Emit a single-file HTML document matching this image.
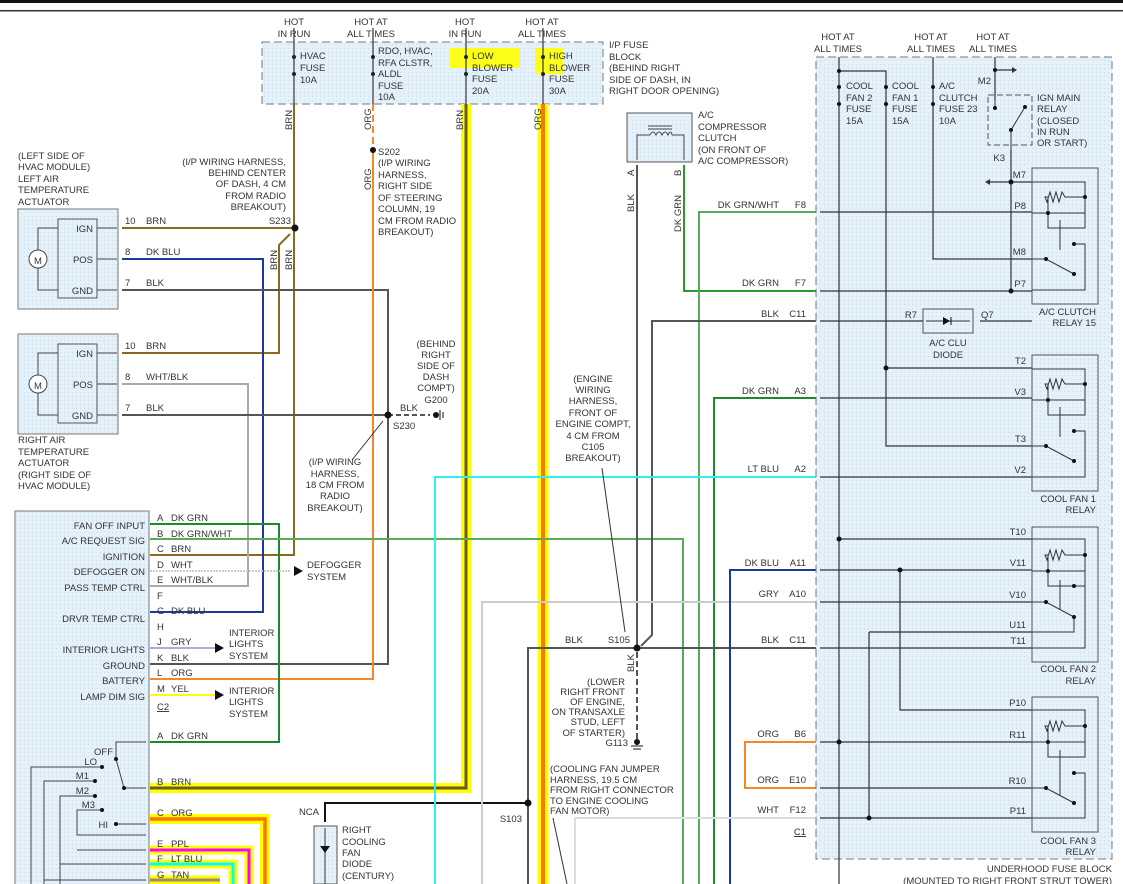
<!DOCTYPE html>
<html><head><meta charset="utf-8"><style>
html,body{margin:0;padding:0;background:#fff;}
svg{display:block;}
text{font-family:"Liberation Sans",sans-serif;font-size:9.5px;fill:#333;}
.r{text-anchor:end;}
</style></head><body>
<svg width="1123" height="884" viewBox="0 0 1123 884" xmlns="http://www.w3.org/2000/svg">
<defs>
<pattern id="bg" width="4" height="4" patternUnits="userSpaceOnUse"><rect width="4" height="4" fill="#e4f1fa"/><rect width="1" height="1" fill="#c9dcea"/></pattern>
</defs>
<!-- top rules -->
<rect x="0" y="0" width="1123" height="3" fill="#111"/>
<rect x="0" y="10" width="1123" height="1.5" fill="#333"/>

<!-- I/P fuse block -->
<rect x="262" y="42" width="341" height="62" fill="url(#bg)" stroke="#777" stroke-dasharray="8,4"/>
<rect x="450" y="48" width="70" height="20" fill="#ff0" opacity="0.9"/>
<rect x="535" y="48" width="28" height="26" fill="#ff0" opacity="0.9"/>
<g stroke="#444" stroke-width="1.3" fill="none">
<line x1="294" y1="28" x2="294" y2="104"/><line x1="373" y1="28" x2="373" y2="104"/>
<line x1="466" y1="28" x2="466" y2="104"/><line x1="543" y1="28" x2="543" y2="104"/>
</g>
<g fill="#222"><circle cx="294" cy="57" r="2"/><circle cx="294" cy="74" r="2"/><circle cx="373" cy="57" r="2"/><circle cx="373" cy="74" r="2"/><circle cx="466" cy="57" r="2"/><circle cx="466" cy="74" r="2"/><circle cx="543" cy="57" r="2"/><circle cx="543" cy="74" r="2"/></g>
<text x="294" y="25" text-anchor="middle">HOT</text><text x="294" y="37" text-anchor="middle">IN RUN</text>
<text x="371" y="25" text-anchor="middle">HOT AT</text><text x="371" y="37" text-anchor="middle">ALL TIMES</text>
<text x="465" y="25" text-anchor="middle">HOT</text><text x="465" y="37" text-anchor="middle">IN RUN</text>
<text x="542" y="25" text-anchor="middle">HOT AT</text><text x="542" y="37" text-anchor="middle">ALL TIMES</text>
<text x="300" y="59">HVAC</text><text x="300" y="71">FUSE</text><text x="300" y="83">10A</text>
<text x="378" y="54">RDO, HVAC,</text><text x="378" y="66">RFA CLSTR,</text><text x="378" y="77">ALDL</text><text x="378" y="89">FUSE</text><text x="378" y="100">10A</text>
<text x="472" y="59">LOW</text><text x="472" y="71">BLOWER</text><text x="472" y="82">FUSE</text><text x="472" y="94">20A</text>
<text x="549" y="59">HIGH</text><text x="549" y="71">BLOWER</text><text x="549" y="82">FUSE</text><text x="549" y="94">30A</text>
<text x="609" y="48">I/P FUSE</text><text x="609" y="60">BLOCK</text><text x="609" y="71">(BEHIND RIGHT</text><text x="609" y="83">SIDE OF DASH, IN</text><text x="609" y="94">RIGHT DOOR OPENING)</text>

<!-- blower thick bands -->
<path d="M466 104 V788 H150" fill="none" stroke="#ff0" stroke-width="10"/>
<path d="M466 104 V788 H150" fill="none" stroke="#6b5a2a" stroke-width="3"/>
<line x1="543" y1="104" x2="543" y2="884" stroke="#ff0" stroke-width="11"/>
<line x1="543" y1="104" x2="543" y2="884" stroke="#f70" stroke-width="4"/>
<text transform="translate(463,130) rotate(-90)" font-size="9">BRN</text>
<text transform="translate(541,130) rotate(-90)" font-size="9">ORG</text>

<!-- C ORG, E, F, G bands -->
<path d="M150 819 H265 V884" fill="none" stroke="#ff0" stroke-width="10"/>
<path d="M150 819 H265 V884" fill="none" stroke="#f70" stroke-width="3.5"/>
<path d="M150 850 H249 V884" fill="none" stroke="#ff0" stroke-width="9"/>
<path d="M150 850 H249 V884" fill="none" stroke="#f0f" stroke-width="3"/>
<path d="M150 864 H233 V884" fill="none" stroke="#ff0" stroke-width="9"/>
<path d="M150 864 H233 V884" fill="none" stroke="#0ff" stroke-width="3"/>
<path d="M150 880 H220" fill="none" stroke="#ff0" stroke-width="9"/>
<path d="M150 880 H220" fill="none" stroke="#9a8a70" stroke-width="3"/>

<!-- left actuators -->
<rect x="18" y="209" width="100" height="100" fill="url(#bg)" stroke="#777"/>
<rect x="58" y="219" width="39" height="79" fill="url(#bg)" stroke="#555"/>
<rect x="18" y="334" width="100" height="100" fill="url(#bg)" stroke="#777"/>
<rect x="58" y="344" width="39" height="79" fill="url(#bg)" stroke="#555"/>
<g stroke="#444" fill="none">
<path d="M58 228 H38 V250 M38 268 V290 H58"/><circle cx="38" cy="259" r="9" fill="#fff"/>
<path d="M58 353 H38 V375 M38 393 V415 H58"/><circle cx="38" cy="384" r="9" fill="#fff"/>
<path d="M97 228 H117 M97 259 H117 M97 290 H117 M97 353 H117 M97 384 H117 M97 415 H117"/>
</g>
<text x="38" y="264" text-anchor="middle" font-size="12">M</text><text x="38" y="389" text-anchor="middle" font-size="12">M</text>
<text x="93" y="232" class="r">IGN</text><text x="93" y="263" class="r">POS</text><text x="93" y="294" class="r">GND</text>
<text x="93" y="357" class="r">IGN</text><text x="93" y="388" class="r">POS</text><text x="93" y="419" class="r">GND</text>
<text x="18" y="159">(LEFT SIDE OF</text><text x="18" y="170">HVAC MODULE)</text><text x="18" y="182">LEFT AIR</text><text x="18" y="193">TEMPERATURE</text><text x="18" y="205">ACTUATOR</text>
<text x="18" y="443">RIGHT AIR</text><text x="18" y="455">TEMPERATURE</text><text x="18" y="466">ACTUATOR</text><text x="18" y="478">(RIGHT SIDE OF</text><text x="18" y="489">HVAC MODULE)</text>
<text x="125" y="224">10</text><text x="146" y="224">BRN</text><text x="125" y="255">8</text><text x="146" y="255">DK BLU</text><text x="125" y="286">7</text><text x="146" y="286">BLK</text>
<text x="125" y="349">10</text><text x="146" y="349">BRN</text><text x="125" y="380">8</text><text x="146" y="380">WHT/BLK</text><text x="125" y="411">7</text><text x="146" y="411">BLK</text>

<!-- left wires -->
<g fill="none" stroke-width="2">
<path d="M294 104 V555 H150" stroke="#8a6a20"/>
<path d="M122 228 H294" stroke="#8a6a20"/>
<path d="M290 234 L279 245 V353 H122" stroke="#8a6a20"/>
<path d="M122 259 H263 V612 H150" stroke="#1a3aa0"/>
<path d="M122 290 H388 V664 H150" stroke="#555"/>
<path d="M122 384 H248 V586 H150" stroke="#aaa"/>
<path d="M122 415 H388" stroke="#555"/>
<path d="M373 104 V150" stroke="#f7852a" stroke-dasharray="7,4"/>
<path d="M373 150 V679 H150" stroke="#f7852a"/>
<path d="M150 524 H279 V742 H150" stroke="#1a8a2a"/>
<path d="M150 539 H683 V884" stroke="#5aaa5a"/>
<path d="M150 571 H290" stroke="#ccc" stroke-dasharray="2,1"/>
<path d="M150 648 H215" stroke="#b8a8d0"/>
<path d="M150 695 H215" stroke="#ff0"/>
<path d="M388 415 H430" stroke="#555" stroke-dasharray="5,3"/>
</g>
<text transform="translate(292,130) rotate(-90)" font-size="9">BRN</text>
<text transform="translate(371,130) rotate(-90)" font-size="9">ORG</text>
<text transform="translate(371,190) rotate(-90)" font-size="9">ORG</text>
<text transform="translate(277,270) rotate(-90)" font-size="9">BRN</text>
<text transform="translate(292,270) rotate(-90)" font-size="9">BRN</text>
<circle cx="295" cy="228" r="3.5" fill="#111"/><text x="291" y="224" class="r">S233</text>
<circle cx="373" cy="150" r="3" fill="#111"/>
<text x="378" y="155">S202</text><text x="378" y="166">(I/P WIRING</text><text x="378" y="178">HARNESS,</text><text x="378" y="189">RIGHT SIDE</text><text x="378" y="201">OF STEERING</text><text x="378" y="212">COLUMN, 19</text><text x="378" y="224">CM FROM RADIO</text><text x="378" y="235">BREAKOUT)</text>
<text x="286" y="165" class="r">(I/P WIRING HARNESS,</text><text x="286" y="176" class="r">BEHIND CENTER</text><text x="286" y="187" class="r">OF DASH, 4 CM</text><text x="286" y="199" class="r">FROM RADIO</text><text x="286" y="210" class="r">BREAKOUT)</text>
<circle cx="388" cy="415" r="3.5" fill="#111"/><text x="393" y="429">S230</text><text x="400" y="411">BLK</text>
<circle cx="436" cy="415" r="3" fill="#111"/><path d="M440 410 V420 M443 412 V418" stroke="#111"/>
<text x="436" y="347" text-anchor="middle">(BEHIND</text><text x="436" y="358" text-anchor="middle">RIGHT</text><text x="436" y="369" text-anchor="middle">SIDE OF</text><text x="436" y="380" text-anchor="middle">DASH</text><text x="436" y="391" text-anchor="middle">COMPT)</text><text x="436" y="403" text-anchor="middle">G200</text>
<path d="M352 460 L383 421" stroke="#333"/>
<text x="335" y="465" text-anchor="middle">(I/P WIRING</text><text x="335" y="477" text-anchor="middle">HARNESS,</text><text x="335" y="488" text-anchor="middle">18 CM FROM</text><text x="335" y="499" text-anchor="middle">RADIO</text><text x="335" y="511" text-anchor="middle">BREAKOUT)</text>

<!-- module -->
<rect x="15" y="511" width="134" height="380" fill="url(#bg)" stroke="#777"/>
<text x="145" y="529" class="r">FAN OFF INPUT</text><text x="145" y="544" class="r">A/C REQUEST SIG</text><text x="145" y="560" class="r">IGNITION</text><text x="145" y="575" class="r">DEFOGGER ON</text><text x="145" y="591" class="r">PASS TEMP CTRL</text><text x="145" y="622" class="r">DRVR TEMP CTRL</text><text x="145" y="653" class="r">INTERIOR LIGHTS</text><text x="145" y="669" class="r">GROUND</text><text x="145" y="684" class="r">BATTERY</text><text x="145" y="700" class="r">LAMP DIM SIG</text>
<g>
<text x="157" y="521">A</text><text x="171" y="521">DK GRN</text>
<text x="157" y="537">B</text><text x="171" y="537">DK GRN/WHT</text>
<text x="157" y="552">C</text><text x="171" y="552">BRN</text>
<text x="157" y="568">D</text><text x="171" y="568">WHT</text>
<text x="157" y="583">E</text><text x="171" y="583">WHT/BLK</text>
<text x="157" y="599">F</text>
<text x="157" y="614">G</text><text x="171" y="614">DK BLU</text>
<text x="157" y="630">H</text>
<text x="157" y="645">J</text><text x="171" y="645">GRY</text>
<text x="157" y="661">K</text><text x="171" y="661">BLK</text>
<text x="157" y="676">L</text><text x="171" y="676">ORG</text>
<text x="157" y="692">M</text><text x="171" y="692">YEL</text>
<text x="157" y="710" text-decoration="underline">C2</text>
<text x="157" y="739">A</text><text x="171" y="739">DK GRN</text>
<text x="157" y="785">B</text><text x="171" y="785">BRN</text>
<text x="157" y="816">C</text><text x="171" y="816">ORG</text>
<text x="157" y="847">E</text><text x="171" y="847">PPL</text>
<text x="157" y="862">F</text><text x="171" y="862">LT BLU</text>
<text x="157" y="878">G</text><text x="171" y="878">TAN</text>
</g>
<path d="M294 566 L303 571 L294 576Z M215 643 L224 648 L215 653Z M215 690 L224 695 L215 700Z" fill="#111"/>
<text x="307" y="568">DEFOGGER</text><text x="307" y="580">SYSTEM</text>
<text x="229" y="636">INTERIOR</text><text x="229" y="647">LIGHTS</text><text x="229" y="659">SYSTEM</text>
<text x="229" y="694">INTERIOR</text><text x="229" y="705">LIGHTS</text><text x="229" y="717">SYSTEM</text>
<!-- switch -->
<g stroke="#444" fill="none">
<path d="M146 742 H116 V759 L124 788 H146"/>
<path d="M102 767 H31 V884 M95 781 H44 V884 M95 796 H60 V884 M102 810 H77 V835 H146 M116 824 H146 M60 864 H146 M44 880 H146 M77 850 H146"/>
</g>
<g fill="#111"><circle cx="116" cy="759" r="2"/><circle cx="124" cy="788" r="2"/><circle cx="102" cy="767" r="2"/><circle cx="95" cy="781" r="2"/><circle cx="95" cy="796" r="2"/><circle cx="102" cy="810" r="2"/><circle cx="116" cy="824" r="2"/></g>
<text x="113" y="755" class="r">OFF</text><text x="97" y="765" class="r">LO</text><text x="89" y="779" class="r">M1</text><text x="89" y="794" class="r">M2</text><text x="95" y="808" class="r">M3</text><text x="108" y="828" class="r">HI</text>

<!-- NCA diode -->
<path d="M528 803 H325 V822" stroke="#111" stroke-width="2" fill="none"/>
<text x="319" y="815" class="r">NCA</text>
<rect x="314" y="826" width="23" height="58" fill="url(#bg)" stroke="#555"/>
<path d="M325 828 V884" stroke="#333"/><path d="M320 846 H330 L325 853Z" fill="#111"/>
<text x="342" y="833">RIGHT</text><text x="342" y="845">COOLING</text><text x="342" y="856">FAN</text><text x="342" y="867">DIODE</text><text x="342" y="879">(CENTURY)</text>

<!-- compressor -->
<rect x="627" y="113" width="65" height="49" fill="url(#bg)" stroke="#555"/>
<path d="M637 160 V135 H650 M672 135 H684 V160" stroke="#444" fill="none"/>
<path d="M650 135 q3 -6 6 0 q3 -6 6 0 q3 -6 6 0 q3 -6 4 0 M648 126 H672 M648 129 H672" stroke="#444" fill="none"/>
<text x="698" y="118">A/C</text><text x="698" y="130">COMPRESSOR</text><text x="698" y="141">CLUTCH</text><text x="698" y="153">(ON FRONT OF</text><text x="698" y="164">A/C COMPRESSOR)</text>
<text transform="translate(634,176) rotate(-90)" font-size="9">A</text><text transform="translate(681,176) rotate(-90)" font-size="9">B</text>
<text transform="translate(634,212) rotate(-90)" font-size="9">BLK</text><text transform="translate(681,232) rotate(-90)" font-size="9">DK GRN</text>

<!-- middle wires -->
<g fill="none" stroke-width="2">
<path d="M637 165 V648" stroke="#555"/>
<path d="M637 652 V740" stroke="#555" stroke-dasharray="6,3"/>
<path d="M684 165 V291 H816" stroke="#2a9a2a"/>
<path d="M816 212 H699 V884" stroke="#5aaa5a"/>
<path d="M816 398 H714 V884" stroke="#1a8a2a"/>
<path d="M816 321 H652 V635 L641 646" stroke="#555"/>
<path d="M816 648 H528 V884" stroke="#555"/>
<path d="M816 477 H435 V884" stroke="#2ef0f0"/>
<path d="M816 602 H482 V884" stroke="#ccc"/>
<path d="M816 570 H730 V884" stroke="#1a3aa0"/>
<path d="M816 742 H745 V788 H816" stroke="#f7852a"/>
<path d="M816 818 H575 V884" stroke="#ddd"/>
</g>
<circle cx="637" cy="648" r="3.5" fill="#111"/><text x="630" y="643" class="r">S105</text><text x="565" y="643">BLK</text>
<text transform="translate(634,672) rotate(-90)" font-size="9">BLK</text>
<circle cx="637" cy="742" r="3" fill="#111"/><path d="M631 746 H643 M633 749 H641" stroke="#111"/><text x="628" y="746" class="r">G113</text>
<circle cx="528" cy="803" r="3.5" fill="#111"/><text x="522" y="822" class="r">S103</text>
<text x="593" y="382" text-anchor="middle">(ENGINE</text><text x="593" y="393" text-anchor="middle">WIRING</text><text x="593" y="404" text-anchor="middle">HARNESS,</text><text x="593" y="416" text-anchor="middle">FRONT OF</text><text x="593" y="427" text-anchor="middle">ENGINE COMPT,</text><text x="593" y="439" text-anchor="middle">4 CM FROM</text><text x="593" y="450" text-anchor="middle">C105</text><text x="593" y="461" text-anchor="middle">BREAKOUT)</text>
<path d="M602 468 L625 632" stroke="#333"/>
<text x="625" y="685" class="r">(LOWER</text><text x="625" y="695" class="r">RIGHT FRONT</text><text x="625" y="705" class="r">OF ENGINE,</text><text x="625" y="715" class="r">ON TRANSAXLE</text><text x="625" y="725" class="r">STUD, LEFT</text><text x="625" y="736" class="r">OF STARTER)</text>
<text x="550" y="772">(COOLING FAN JUMPER</text><text x="550" y="783">HARNESS, 19.5 CM</text><text x="550" y="793">FROM RIGHT CONNECTOR</text><text x="550" y="804">TO ENGINE COOLING</text><text x="550" y="814">FAN MOTOR)</text>
<path d="M553 818 L567 884" stroke="#333"/>
<text x="779" y="208" class="r">DK GRN/WHT</text><text x="806" y="208" class="r">F8</text>
<text x="779" y="286" class="r">DK GRN</text><text x="806" y="286" class="r">F7</text>
<text x="779" y="317" class="r">BLK</text><text x="806" y="317" class="r">C11</text>
<text x="779" y="394" class="r">DK GRN</text><text x="806" y="394" class="r">A3</text>
<text x="779" y="472" class="r">LT BLU</text><text x="806" y="472" class="r">A2</text>
<text x="779" y="566" class="r">DK BLU</text><text x="806" y="566" class="r">A11</text>
<text x="779" y="597" class="r">GRY</text><text x="806" y="597" class="r">A10</text>
<text x="779" y="643" class="r">BLK</text><text x="806" y="643" class="r">C11</text>
<text x="779" y="737" class="r">ORG</text><text x="806" y="737" class="r">B6</text>
<text x="779" y="783" class="r">ORG</text><text x="806" y="783" class="r">E10</text>
<text x="779" y="813" class="r">WHT</text><text x="806" y="813" class="r">F12</text>
<text x="806" y="835" class="r" text-decoration="underline">C1</text>

<!-- underhood fuse block -->
<rect x="816" y="57" width="296" height="802" fill="url(#bg)" stroke="#777" stroke-dasharray="8,4"/>
<text x="838" y="40" text-anchor="middle">HOT AT</text><text x="838" y="52" text-anchor="middle">ALL TIMES</text>
<text x="931" y="40" text-anchor="middle">HOT AT</text><text x="931" y="52" text-anchor="middle">ALL TIMES</text>
<text x="993" y="40" text-anchor="middle">HOT AT</text><text x="993" y="52" text-anchor="middle">ALL TIMES</text>
<text x="1112" y="872" class="r">UNDERHOOD FUSE BLOCK</text><text x="1112" y="884" class="r">(MOUNTED TO RIGHT FRONT STRUT TOWER)</text>
<g stroke="#333" fill="none" stroke-width="1.2">
<path d="M839 57 V884 M839 71 H886 V446 H1032 M933 57 V259 H1032 M995 57 V100 M995 70 H1012"/>
<path d="M1032 212 H820 M1032 291 H820 M1032 321 H980 M958 321 H820 M1032 398 H820 M1032 477 H820 M886 368 H1032 M839 539 H1032 M1032 570 H820 M1032 602 H820 M1032 648 H820 M869 632 H1032 M869 632 V818 M900 570 V710 H1032 M1032 742 H820 M1032 788 H820 M1032 818 H820"/>
<path d="M1011 291 V182 M990 182 H1032 M1011 150 V182"/>
</g>
<path d="M1012 67 L1017 70 L1012 73Z M990 179 L985 182 L990 185Z" fill="#333"/>
<g fill="#111"><circle cx="839" cy="71" r="2"/><circle cx="839" cy="539" r="2.5"/><circle cx="839" cy="742" r="2.5"/><circle cx="886" cy="368" r="2.5"/><circle cx="995" cy="70" r="2"/><circle cx="1011" cy="182" r="2.5"/><circle cx="1011" cy="291" r="2.5"/><circle cx="900" cy="570" r="2.5"/><circle cx="869" cy="818" r="2.5"/>
<circle cx="839" cy="87" r="2"/><circle cx="839" cy="104" r="2"/><circle cx="886" cy="87" r="2"/><circle cx="886" cy="104" r="2"/><circle cx="933" cy="87" r="2"/><circle cx="933" cy="104" r="2"/></g>
<text x="846" y="89">COOL</text><text x="846" y="101">FAN 2</text><text x="846" y="112">FUSE</text><text x="846" y="124">15A</text>
<text x="892" y="89">COOL</text><text x="892" y="101">FAN 1</text><text x="892" y="112">FUSE</text><text x="892" y="124">15A</text>
<text x="939" y="89">A/C</text><text x="939" y="101">CLUTCH</text><text x="939" y="112">FUSE 23</text><text x="939" y="124">10A</text>
<text x="991" y="84" class="r">M2</text><text x="1005" y="161" class="r">K3</text>
<rect x="988" y="95" width="44" height="50" fill="none" stroke="#555" stroke-dasharray="6,3"/>
<path d="M995 100 V108 M1011 130 L1025 107" stroke="#333"/><circle cx="995" cy="108" r="2" fill="#111"/><circle cx="1011" cy="130" r="2" fill="#111"/><circle cx="1025" cy="107" r="2" fill="#111"/><path d="M1011 130 V150" stroke="#333"/>
<text x="1037" y="101">IGN MAIN</text><text x="1037" y="112">RELAY</text><text x="1037" y="124">(CLOSED</text><text x="1037" y="135">IN RUN</text><text x="1037" y="146">OR START)</text>
<!-- A/C clu diode -->
<rect x="923" y="309" width="50" height="24" fill="url(#bg)" stroke="#555"/>
<path d="M926 321 H970" stroke="#333"/><path d="M943 317 L950 321 L943 325Z" fill="#111"/><path d="M951 317 V325" stroke="#111"/>
<text x="917" y="318" class="r">R7</text><text x="981" y="318">Q7</text>
<text x="948" y="346" text-anchor="middle">A/C CLU</text><text x="948" y="358" text-anchor="middle">DIODE</text>

<!-- relays -->
<g id="relayAC">
<rect x="1032" y="168" width="66" height="136" fill="url(#bg)" stroke="#555"/>
<g stroke="#333" fill="none">
<path d="M1032 182 H1085 V228 H1048 V213 M1032 213 H1085 V197 H1065 l-3 -5 -3 10 -3 -10 -3 10 -3 -10 -3 10 -2 -5 H1048 V213"/>
<path d="M1032 259 H1046 L1074 274 M1074 244 H1085 V290 H1032 M1060 220 V250" />
</g>
<g fill="#111"><circle cx="1085" cy="197" r="2"/><circle cx="1048" cy="213" r="2"/><circle cx="1046" cy="259" r="2"/><circle cx="1074" cy="274" r="2"/><circle cx="1074" cy="244" r="2"/></g>
</g>
<use href="#relayAC" transform="translate(0,187)"/>
<text x="1026" y="178" class="r">M7</text><text x="1026" y="209" class="r">P8</text><text x="1026" y="255" class="r">M8</text><text x="1026" y="287" class="r">P7</text>
<text x="1096" y="315" class="r">A/C CLUTCH</text><text x="1096" y="326" class="r">RELAY 15</text>
<text x="1026" y="364" class="r">T2</text><text x="1026" y="395" class="r">V3</text><text x="1026" y="442" class="r">T3</text><text x="1026" y="473" class="r">V2</text>
<text x="1096" y="502" class="r">COOL FAN 1</text><text x="1096" y="513" class="r">RELAY</text>
<g>
<rect x="1032" y="527" width="66" height="135" fill="url(#bg)" stroke="#555"/>
<g stroke="#333" fill="none">
<path d="M1032 539 H1085 V586 H1048 V571 M1032 571 H1085 V555 H1065 l-3 -5 -3 10 -3 -10 -3 10 -3 -10 -3 10 -2 -5 H1048 V571"/>
<path d="M1032 602 H1046 L1074 617 M1074 586 H1085 V648 H1032 M1074 617 V632 H1032 M1060 580 V610"/>
</g>
<g fill="#111"><circle cx="1085" cy="555" r="2"/><circle cx="1048" cy="571" r="2"/><circle cx="1046" cy="602" r="2"/><circle cx="1074" cy="617" r="2"/><circle cx="1074" cy="586" r="2"/></g>
</g>
<text x="1026" y="535" class="r">T10</text><text x="1026" y="566" class="r">V11</text><text x="1026" y="598" class="r">V10</text><text x="1026" y="628" class="r">U11</text><text x="1026" y="644" class="r">T11</text>
<text x="1096" y="672" class="r">COOL FAN 2</text><text x="1096" y="684" class="r">RELAY</text>
<g>
<rect x="1032" y="697" width="66" height="135" fill="url(#bg)" stroke="#555"/>
<g stroke="#333" fill="none">
<path d="M1032 710 H1085 V757 H1048 V742 M1032 742 H1085 V726 H1065 l-3 -5 -3 10 -3 -10 -3 10 -3 -10 -3 10 -2 -5 H1048 V742"/>
<path d="M1032 788 H1046 L1074 803 M1074 773 H1085 V818 H1032 M1060 750 V795"/>
</g>
<g fill="#111"><circle cx="1085" cy="726" r="2"/><circle cx="1048" cy="742" r="2"/><circle cx="1046" cy="788" r="2"/><circle cx="1074" cy="803" r="2"/><circle cx="1074" cy="773" r="2"/></g>
</g>
<text x="1026" y="706" class="r">P10</text><text x="1026" y="738" class="r">R11</text><text x="1026" y="784" class="r">R10</text><text x="1026" y="814" class="r">P11</text>
<text x="1096" y="844" class="r">COOL FAN 3</text><text x="1096" y="855" class="r">RELAY</text>
</svg>
</body></html>
